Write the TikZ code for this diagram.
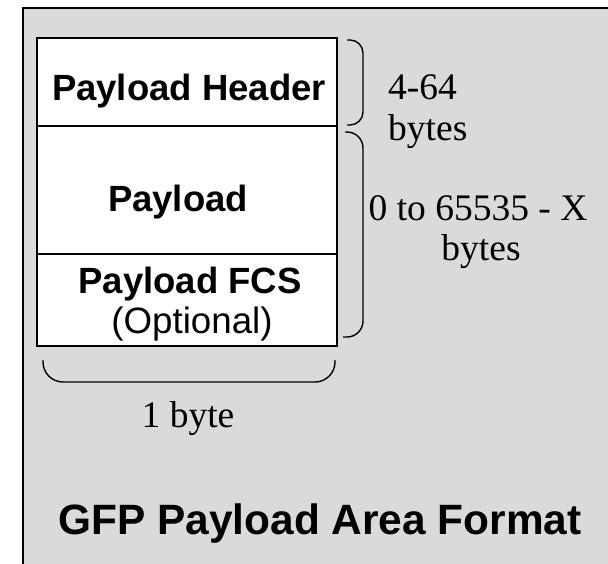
\documentclass[tikz,border=0pt]{standalone}
\usepackage{fontspec}
\setmainfont{Liberation Serif}
\newfontfamily\arialfont{Liberation Sans}
\definecolor{bggray}{HTML}{DADADA}
\begin{document}
\begin{tikzpicture}[x=1pt,y=-1pt,
  boldlbl/.style={anchor=base,inner sep=0pt,font=\arialfont\bfseries\fontsize{36.5}{40}\selectfont},
  plainlbl/.style={anchor=base,inner sep=0pt,font=\arialfont\fontsize{36.7}{40}\selectfont},
  serlbl/.style={anchor=base,inner sep=0pt,font=\fontsize{37.5}{40}\selectfont},
  titlelbl/.style={anchor=base,inner sep=0pt,font=\arialfont\bfseries\fontsize{42.4}{46}\selectfont},
  brace/.style={line width=1.4pt}]
\useasboundingbox (0,0) rectangle (608,563);
\fill[white] (0,0) rectangle (608,563);
\filldraw[fill=bggray,draw=black,line width=1.5pt] (23,8) rectangle (640,600);
% frame box
\filldraw[fill=white,draw=black,line width=1.4pt] (37,38) rectangle (337,346);
\draw[line width=1.4pt] (37,126) -- (337,126);
\draw[line width=1.4pt] (37,254) -- (337,254);
% texts in box
\node[boldlbl] (hdr) at (189,100) {Payload Header};
\node[boldlbl] (pl) at (178,211) {Payload};
\node[boldlbl] (fcs) at (190,293) {Payload FCS};
\node[plainlbl] (opt) at (192,333) {(Optional)};
% braces
\draw[brace,rounded corners=13] (347,40) -- (363,40) -- (363,125) -- (347,125);
\draw[brace,rounded corners=16] (345,132) -- (363,132) -- (363,337) -- (343,337);
\draw[brace,rounded corners=20] (43,360) -- (43,382) -- (335,382) -- (335,360);
% side labels
\node[serlbl,anchor=base west] (a) at (388,99) {4-64};
\node[serlbl,anchor=base west] (b) at (388,140) {bytes};
\node[serlbl] (c) at (478,220) {0 to 65535 - X};
\node[serlbl] (d) at (481,260) {bytes};
\node[serlbl] (e) at (188,427) {1 byte};
% title
\node[titlelbl] (t) at (320,534) {GFP Payload Area Format};
\end{tikzpicture}
\end{document}
